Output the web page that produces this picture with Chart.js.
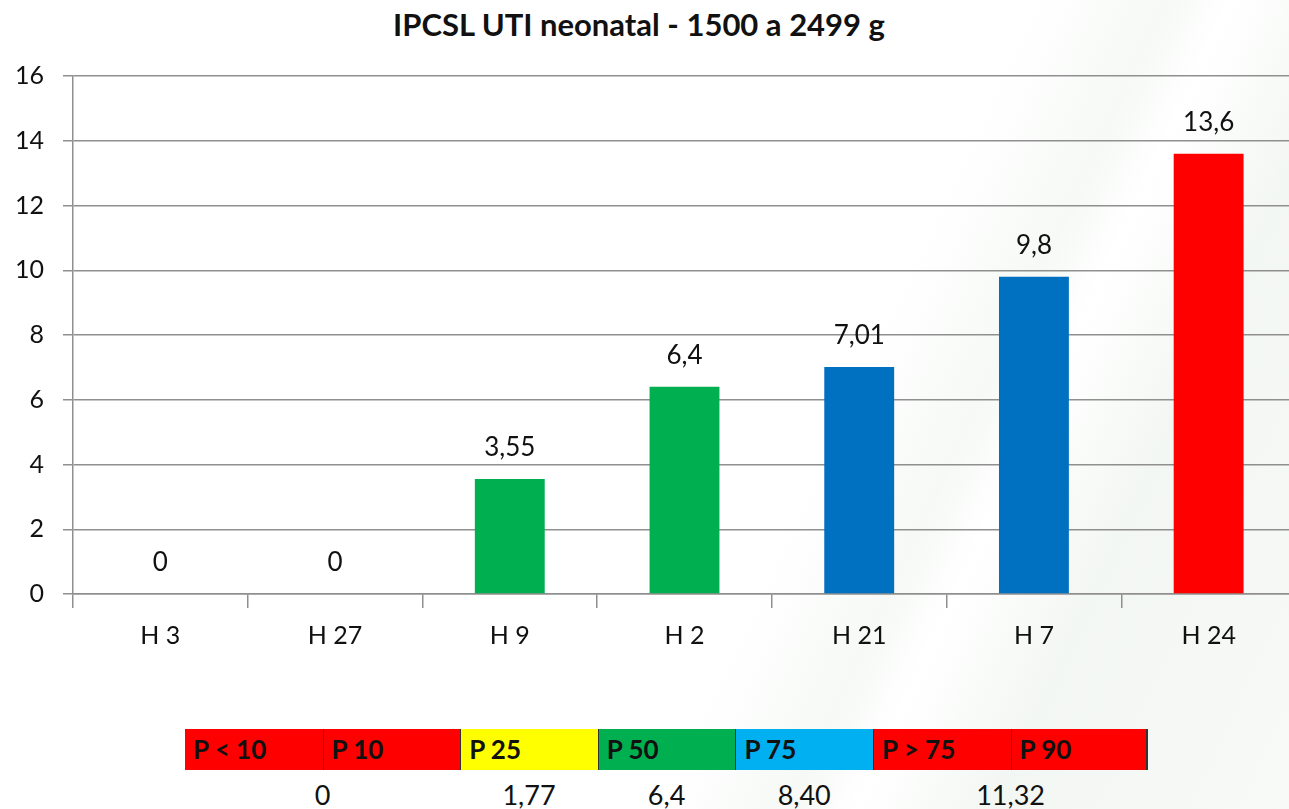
<!DOCTYPE html>
<html>
<head>
<meta charset="utf-8">
<script src="https://cdn.jsdelivr.net/npm/chart.js@4.4.1/dist/chart.umd.min.js"></script>
<style>
  html, body { margin: 0; padding: 0; width: 1289px; height: 809px; overflow: hidden;
    background: linear-gradient(115deg, #ffffff 0%, #ffffff 62%, #f6f9f6 70%, #ffffff 74%, #f3f7f3 82%, #f7faf7 100%); }
  #title { position: absolute; left: 0; width: 1278px; top: 5px; text-align: center;
    font-family: Lato, "Open Sans", sans-serif; font-weight: bold; font-size: 31px; color: #111; }
  #wrap { position: absolute; left: 0; top: 0; width: 1310px; height: 690px; }
  #legend { position: absolute; left: 185px; top: 729px; height: 41px; display: flex; }
  .seg { width: 137.6px; height: 41px; box-sizing: border-box; padding-left: 8px;
    font-family: Lato, sans-serif; font-weight: bold; font-size: 26px; line-height: 41px; color: #111; }
  .num { position: absolute; top: 778px; font-family: Lato, sans-serif; font-size: 27px; color: #111;
    transform: translateX(-50%); white-space: nowrap; }
</style>
</head>
<body>
<div id="title"></div>
<div id="wrap"><canvas id="c"></canvas></div>
<div id="legend"></div>
<script>
// ---- data ----
const chartTitle = "IPCSL UTI neonatal - 1500 a 2499 g";
const categories = ["H 3", "H 27", "H 9", "H 2", "H 21", "H 7", "H 24"];
const values = [0, 0, 3.55, 6.4, 7.01, 9.8, 13.6];
const barColors = ["#FF0000", "#FF0000", "#00B050", "#00B050", "#0070C0", "#0070C0", "#FF0000"];
const yTicks = [0, 2, 4, 6, 8, 10, 12, 14, 16];
const percentileLabels = ["P < 10", "P 10", "P 25", "P 50", "P 75", "P > 75", "P 90"];
const percentileColors = ["#FF0000", "#FF0000", "#FFFF00", "#00B050", "#00B0F0", "#FF0000", "#FF0000"];
const percentileValues = ["0", "1,77", "6,4", "8,40", "11,32"];
// layout: where each percentile value sits (segment boundary index or segment center index)
const percentileAnchors = [["edge", 1], ["mid", 2], ["mid", 3], ["mid", 4], ["edge", 6]];

document.getElementById('title').textContent = chartTitle;

// legend strip
const legend = document.getElementById('legend');
const segW = 137.6, legLeft = 185;
percentileLabels.forEach((lab, i) => {
  const d = document.createElement('div');
  d.className = 'seg';
  d.style.background = percentileColors[i];
  if (i > 0) d.style.borderLeft = '1px solid #333';
  if (i === percentileLabels.length - 1) d.style.borderRight = '2px solid #333';
  d.textContent = lab;
  legend.appendChild(d);
});
percentileValues.forEach((v, i) => {
  const [kind, idx] = percentileAnchors[i];
  const x = legLeft + (kind === 'edge' ? idx * segW : (idx + 0.5) * segW);
  const s = document.createElement('div');
  s.className = 'num';
  s.style.left = x + 'px';
  s.textContent = v;
  document.body.appendChild(s);
});

const fmt = v => String(v).replace('.', ',');

const valueLabels = {
  id: 'valueLabels',
  afterDatasetsDraw(chart) {
    const ctx = chart.ctx;
    const meta = chart.getDatasetMeta(0);
    ctx.save();
    ctx.font = '26px Lato, sans-serif';
    ctx.fillStyle = '#111';
    ctx.textAlign = 'center';
    ctx.textBaseline = 'middle';
    meta.data.forEach((bar, i) => {
      ctx.fillText(fmt(values[i]), bar.x, bar.y - 31);
    });
    ctx.restore();
  }
};

new Chart(document.getElementById('c'), {
  type: 'bar',
  data: {
    labels: categories,
    datasets: [{
      data: values,
      backgroundColor: barColors,
      borderWidth: 0,
      categoryPercentage: 0.8,
      barPercentage: 0.5
    }]
  },
  options: {
    responsive: true,
    maintainAspectRatio: false,
    animation: false,
    layout: { padding: { top: 76, right: 14, left: 0, bottom: 0 } },
    plugins: { legend: { display: false }, tooltip: { enabled: false }, title: { display: false } },
    scales: {
      x: {
        grid: { display: true, drawOnChartArea: false, drawTicks: true, tickLength: 14,
                color: '#8f8f8f', lineWidth: 1.5, offset: true },
        border: { display: true, color: '#8f8f8f', width: 1.5 },
        ticks: { color: '#111', font: { family: 'Lato', size: 25 }, padding: 13, maxRotation: 0 },
        afterFit(s) { s.height = 96; }
      },
      y: {
        min: 0, max: 16,
        afterBuildTicks(s) { s.ticks = yTicks.map(v => ({ value: v })); },
        grid: { color: '#8f8f8f', lineWidth: 1.5, tickLength: 10, drawTicks: true },
        border: { display: true, color: '#8f8f8f', width: 1.5 },
        ticks: { color: '#111', font: { family: 'Lato', size: 25 }, padding: 19 },
        afterFit(s) { s.width = 73; }
      }
    }
  },
  plugins: [valueLabels]
});
</script>
</body>
</html>
